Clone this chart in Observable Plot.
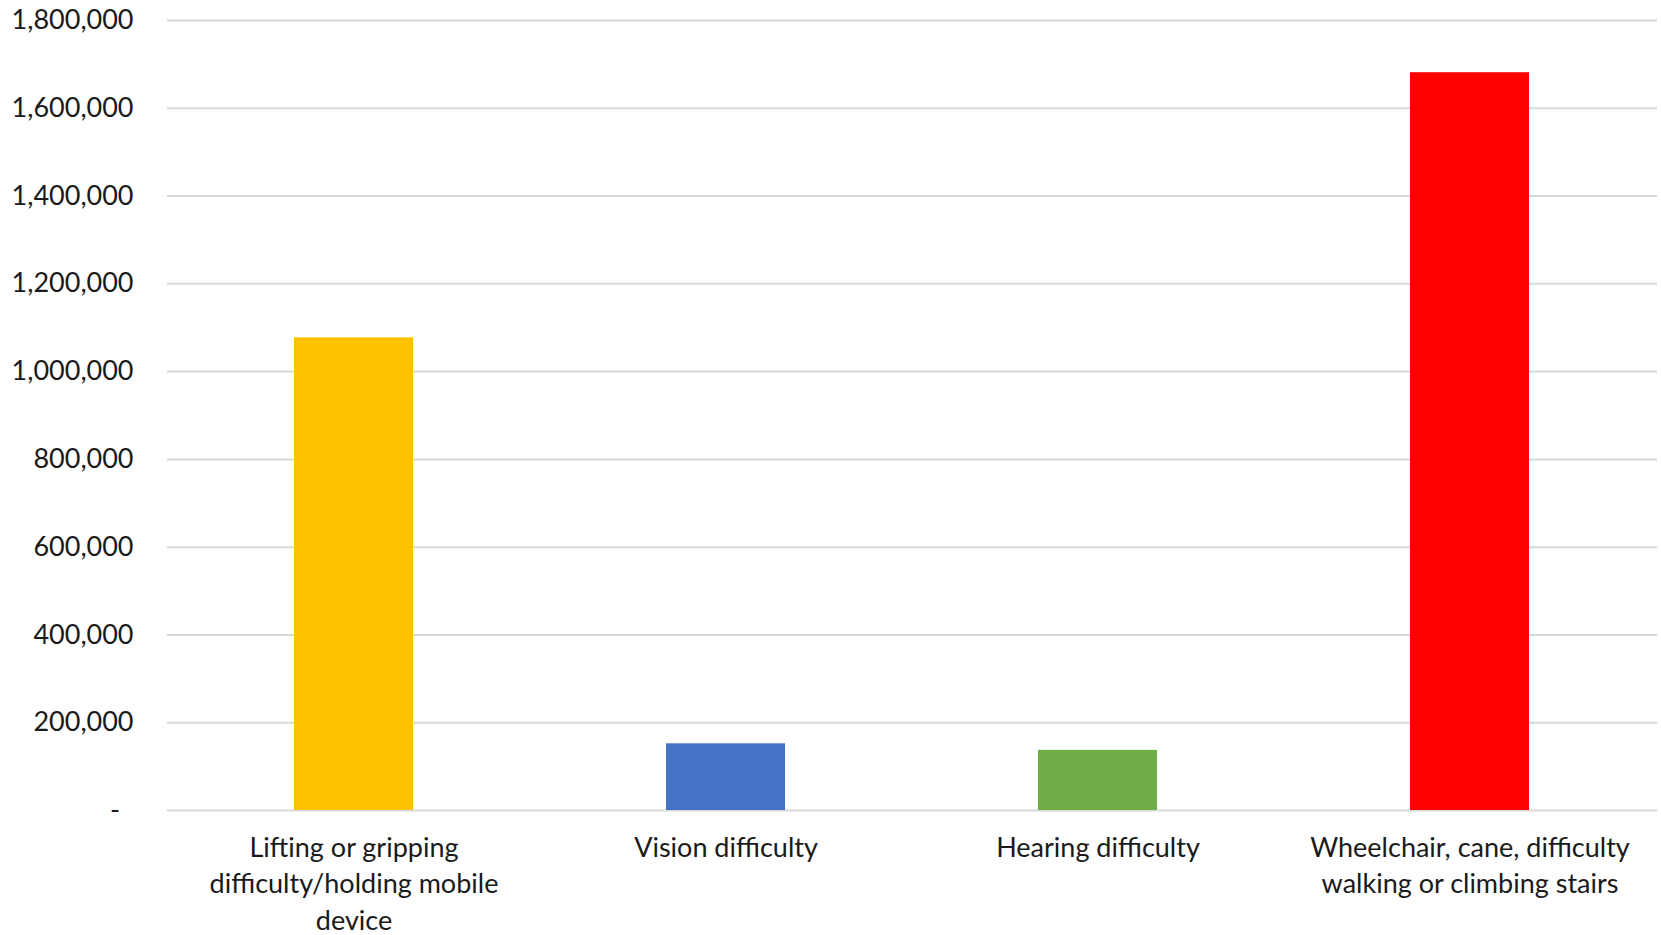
<!DOCTYPE html>
<html>
<head>
<meta charset="utf-8">
<script src="https://cdn.jsdelivr.net/npm/d3@7"></script>
<script src="https://cdn.jsdelivr.net/npm/@observablehq/plot@0.6"></script>
<style>
  html, body { margin: 0; padding: 0; background: #ffffff; }
  #chart { width: 1661px; height: 935px; overflow: hidden; }
</style>
</head>
<body>
<div id="chart"></div>
<script>
// Categories of difficulty and the number of people reporting each
const categories = [
  "Lifting or gripping difficulty/holding mobile device",
  "Vision difficulty",
  "Hearing difficulty",
  "Wheelchair, cane, difficulty walking or climbing stairs"
];
const tickLabels = [
  "Lifting or gripping\ndifficulty/holding mobile\ndevice",
  "Vision difficulty",
  "Hearing difficulty",
  "Wheelchair, cane, difficulty\nwalking or climbing stairs"
];
const values = [1077000, 152000, 137000, 1681000];
const yTicks = [0, 200000, 400000, 600000, 800000, 1000000, 1200000, 1400000, 1600000, 1800000];

const data = categories.map((c, i) => ({category: c, value: values[i]}));
const fmt = d3.format(",");

const chart = Plot.plot({
  width: 1661,
  height: 935,
  marginLeft: 167,
  marginRight: 4,
  marginTop: 20,
  marginBottom: 125,
  style: {
    fontFamily: "Lato, 'Open Sans', sans-serif",
    fontSize: "27px",
    color: "#1a1a1a",
    background: "#ffffff"
  },
  x: {domain: categories, paddingInner: 0.68, paddingOuter: 0.34, axis: null},
  y: {domain: [0, 1800000], axis: null},
  color: {domain: categories, range: ["#FFC000", "#4472C4", "#70AD47", "#FF0000"]},
  marks: [
    Plot.gridY(yTicks, {stroke: "#d9d9d9", strokeOpacity: 1, strokeWidth: 2}),
    Plot.barY(data, {x: "category", y: "value", fill: "category"}),
    Plot.axisY(yTicks, {
      label: null,
      tickSize: 0,
      tickPadding: 34,
      fontSize: 27,
      tickFormat: d => d === 0 ? "-\u2002" : fmt(d)
    }),
    Plot.axisX({
      label: null,
      tickSize: 0,
      tickPadding: 20,
      fontSize: 27,
      lineHeight: 1.36,
      tickFormat: d => tickLabels[categories.indexOf(d)]
    })
  ]
});

document.getElementById("chart").appendChild(chart);
</script>
</body>
</html>
